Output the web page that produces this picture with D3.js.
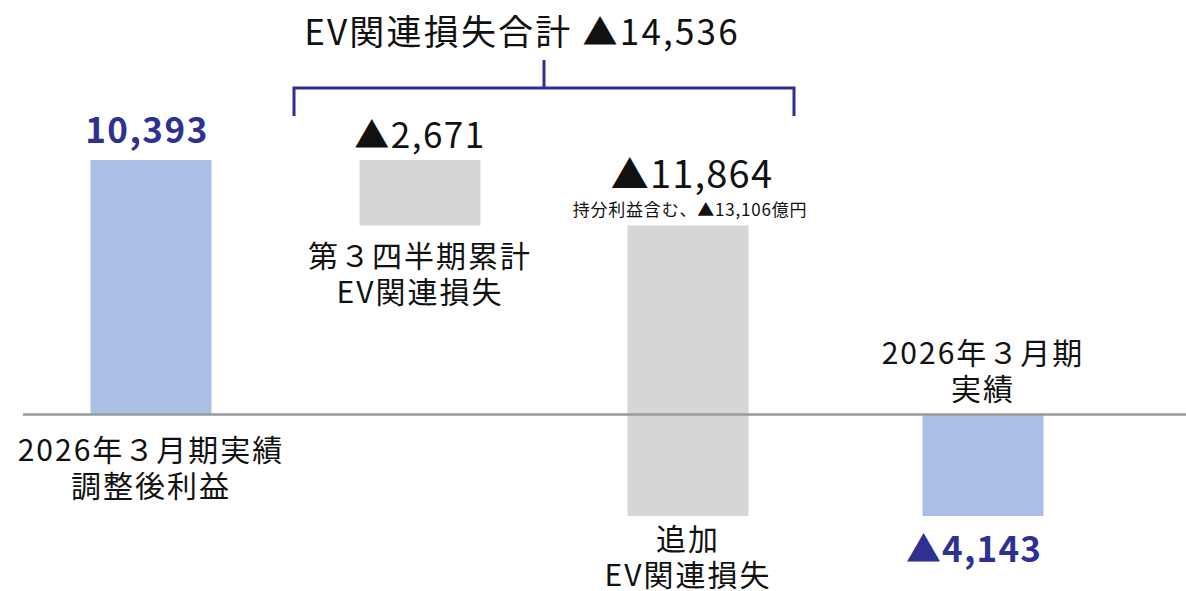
<!DOCTYPE html>
<html lang="ja">
<head>
    <meta charset="UTF-8">
    <title>EV関連損失 ウォーターフォール</title>
    <script src="https://d3js.org/d3.v7.min.js"></script>
    <style>
        body { margin: 0; background: #fff; }
        svg { display: block; }
        text { font-family: "Noto Sans CJK JP", "Noto Sans", sans-serif; fill: #111; }
        .value-total { fill: #2e3192; font-weight: bold; }
    </style>
</head>
<body>
<svg width="1186" height="591"></svg>
<script>
    // categories (two lines each)
    const categories = ["adjusted", "q3", "additional", "result"];
    const categoryLines = [
        ["2026年３月期実績", "調整後利益"],
        ["第３四半期累計", "EV関連損失"],
        ["追加", "EV関連損失"],
        ["2026年３月期", "実績"]
    ];
    // waterfall steps (億円)
    const deltas = [10393, -2671, -11864, -4143];
    const kinds = ["total", "delta", "delta", "total"];
    const valueLabels = ["10,393", "▲2,671", "▲11,864", "▲4,143"];
    const noteLabel = "持分利益含む、▲13,106億円";
    const bracketLabel = "EV関連損失合計 ▲14,536";

    // build start / end of each bar
    let running = 0;
    const bars = categories.map((c, i) => {
        let y0, y1;
        if (kinds[i] === "total") {
            y0 = 0; y1 = deltas[i];
            running = deltas[i];
        } else {
            y0 = running; y1 = running + deltas[i];
            running = y1;
        }
        return { cat: c, i: i, y0: y0, y1: y1, kind: kinds[i] };
    });

    const svg = d3.select("svg");

    const y = d3.scaleLinear()
        .domain([-4143, 10393])
        .range([516, 160]);

    const x = d3.scaleOrdinal()
        .domain(categories)
        .range([151, 420, 688, 983]);
    const barW = 121;

    // bars
    svg.selectAll(".bar")
        .data(bars)
        .enter().append("rect")
        .attr("class", "bar")
        .attr("x", d => x(d.cat) - barW / 2)
        .attr("y", d => y(Math.max(d.y0, d.y1)))
        .attr("width", barW)
        .attr("height", d => Math.abs(y(d.y0) - y(d.y1)))
        .attr("fill", d => d.kind === "total" ? "#abbfe6" : "#d5d6d8");

    // zero line (drawn over the bars)
    svg.append("line")
        .attr("x1", 23).attr("x2", 1186)
        .attr("y1", y(0)).attr("y2", y(0))
        .attr("stroke", "#9a9a9a")
        .attr("stroke-width", 2.5);

    // value labels
    const valueOffsets = [-17, -12, -37, 46];
    const valueShift = [-4, 0, 4, -9];
    const valueSizes = [35, 35, 38, 35];
    const valueSpacing = [1.5, 1.5, 1.2, 1.2];
    svg.selectAll(".value")
        .data(bars)
        .enter().append("text")
        .attr("class", d => d.kind === "total" ? "value value-total" : "value")
        .attr("x", d => x(d.cat) + valueShift[d.i])
        .attr("y", d => d.i === 3 ? y(Math.min(d.y0, d.y1)) + valueOffsets[d.i]
                                  : y(Math.max(d.y0, d.y1)) + valueOffsets[d.i])
        .attr("text-anchor", "middle")
        .attr("font-size", d => valueSizes[d.i])
        .attr("letter-spacing", d => valueSpacing[d.i])
        .text(d => valueLabels[d.i]);

    // small note for additional loss
    svg.append("text")
        .attr("x", x("additional") + 2)
        .attr("y", y(bars[2].y0) - 9)
        .attr("text-anchor", "middle")
        .attr("font-size", 17)
        .attr("letter-spacing", 0.8)
        .text(noteLabel);

    // category labels
    const labelAnchor = [
        y(0) + 46,
        y(bars[1].y1) + 42,
        y(bars[2].y1) + 34,
        y(0) - 51
    ];
    categoryLines.forEach((lines, i) => {
        lines.forEach((ln, k) => {
            svg.append("text")
                .attr("text-anchor", "middle")
                .attr("font-size", 30)
                .attr("letter-spacing", 2)
                .attr("x", x(categories[i]))
                .attr("y", labelAnchor[i] + k * 36)
                .text(ln);
        });
    });

    // bracket over the two loss bars
    const bl = x("q3") - 126, br = x("additional") + 106;
    const bTop = 88, bBot = 116;
    const bMid = (bl + br) / 2;
    svg.append("path")
        .attr("d", `M${bl},${bBot} V${bTop} H${br} V${bBot} M${bMid},${bTop} V60`)
        .attr("fill", "none")
        .attr("stroke", "#2e3192")
        .attr("stroke-width", 3);

    svg.append("text")
        .attr("x", bMid - 22)
        .attr("y", 45)
        .attr("text-anchor", "middle")
        .attr("font-size", 35)
        .attr("letter-spacing", 2.2)
        .text(bracketLabel);
</script>
</body>
</html>
